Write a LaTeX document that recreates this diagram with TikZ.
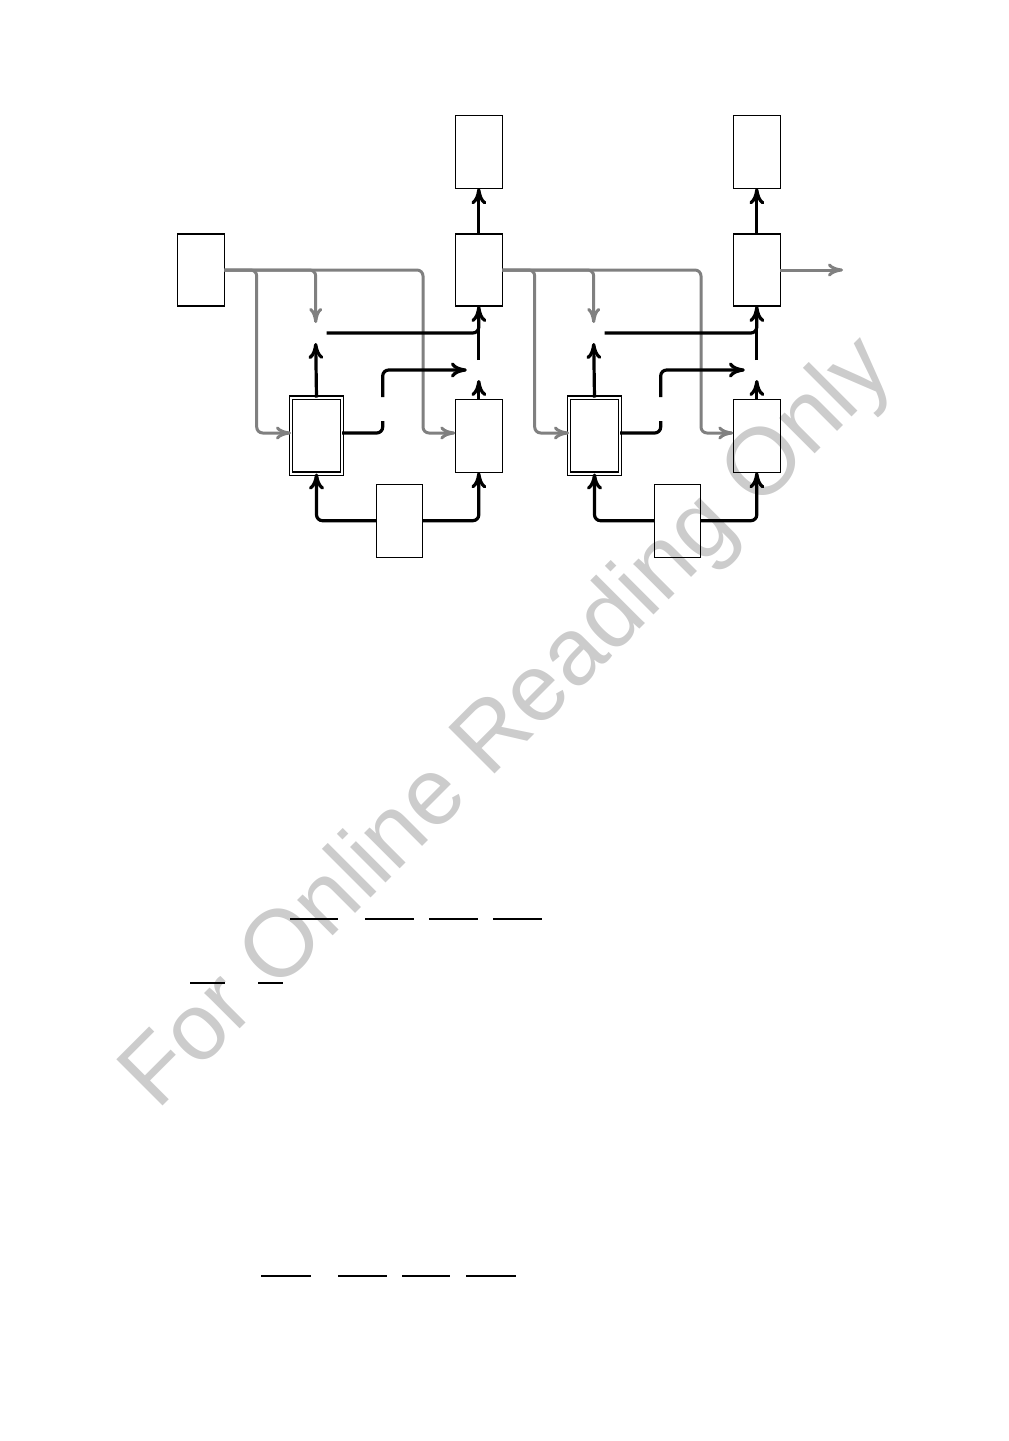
\documentclass[tikz,border=0pt]{standalone}
\usepackage{fontspec}
\newfontfamily\wmfont{Liberation Sans}
\usetikzlibrary{arrows.meta,calc}
\definecolor{wmgray}{RGB}{204,204,204}
\definecolor{lgray}{RGB}{128,128,128}
\begin{document}
\begin{tikzpicture}[x=1pt,y=-1pt,
  blk/.style={draw=black,line width=1.1pt,minimum width=47pt,minimum height=73pt,inner sep=0pt,outer sep=0pt},
  dbl/.style={draw=black,double,double distance=2pt,line width=1.1pt,minimum width=51pt,minimum height=76pt,inner sep=0pt,outer sep=0pt},
  gap/.style={inner sep=0pt,outer sep=0pt},
  bl/.style={line width=3.2pt,draw=black},
  gr/.style={line width=3pt,draw=lgray},
  barrow/.style={-{Computer Modern Rightarrow[length=16pt,width=15pt]}},
  garrow/.style={-{Computer Modern Rightarrow[length=15pt,width=13pt]}},
  rc/.style={rounded corners=6pt},
  fbar/.style={line width=2pt,draw=black}
]
\useasboundingbox (0,0) rectangle (1009,1441);
% watermark
\node[anchor=base west, rotate=45, text=wmgray, inner sep=0pt,
      font=\wmfont\fontsize{95}{100}\selectfont] (wm) at (157,1112) {For Online Reading Only};
% input box
\node[blk,minimum height=72pt] (I) at (200.8,270) {};
\foreach \o/\c/\src in {0/a/I,278/b/Ma}{
  \node[blk] (T\c) at (478.8+\o,151.8) {};
  \node[blk,minimum height=72pt] (M\c) at (478.8+\o,270) {};
  \node[blk] (L\c) at (478.8+\o,435.8) {};
  \node[dbl] (D\c) at (316.5+\o,435.5) {};
  \node[blk,minimum width=46pt] (B\c) at (399.3+\o,520.7) {};
  \node[gap,minimum width=22pt,minimum height=20pt] (S\c) at (315.7+\o,333) {};
  \node[gap,minimum width=24pt,minimum height=20pt] (J\c) at (478.8+\o,370) {};
  \node[gap,minimum width=10pt,minimum height=24pt] (K\c) at (382.7+\o,409) {};
  \coordinate (g1\c) at (256.7+\o,433);
  \coordinate (g2\c) at (423+\o,433);
  % gray feeds
  \draw[gr,garrow,rc] (\src.east) -| (g1\c) -- (D\c.west |- g1\c);
  \draw[gr,garrow,rc] (\src.east) -| (g2\c) -- (L\c.west |- g2\c);
  \draw[gr,garrow,rc] (\src.east) -| (S\c.north);
  % black
  \draw[bl,barrow] (M\c.north) -- (T\c.south);
  \draw[bl,barrow] (D\c.north) -- (S\c.south);
  \draw[bl,barrow,rc] (S\c.east) -| (M\c.south);
  \draw[bl,shorten >=6pt] (J\c.north) -- (M\c.south);
  \draw[bl,barrow] (L\c.north) -- (J\c.south);
  \draw[bl,rc] (D\c.east |- g1\c) -| (K\c.south);
  \draw[bl,barrow,rc] (K\c.north) |- (J\c.west);
  \draw[bl,barrow,rc] (B\c.west) -| (D\c.south);
  \draw[bl,barrow,rc] (B\c.east) -| (L\c.south);
}
\coordinate (out) at (843,270);
\draw[gr,garrow] (Mb.east) -- (out);
% fraction bars
\draw[fbar] (290,918.7) -- (337.7,918.7);
\draw[fbar] (365,918.7) -- (413.7,918.7);
\draw[fbar] (429,918.7) -- (477.7,918.7);
\draw[fbar] (493,918.7) -- (541.7,918.7);
\draw[fbar] (190,982.7) -- (224.7,982.7);
\draw[fbar] (258.3,982.7) -- (282.7,982.7);
\draw[fbar] (261,1275.7) -- (311,1275.7);
\draw[fbar] (338,1275.7) -- (387,1275.7);
\draw[fbar] (402,1275.7) -- (449.7,1275.7);
\draw[fbar] (466,1275.7) -- (515.7,1275.7);
\end{tikzpicture}
\end{document}
